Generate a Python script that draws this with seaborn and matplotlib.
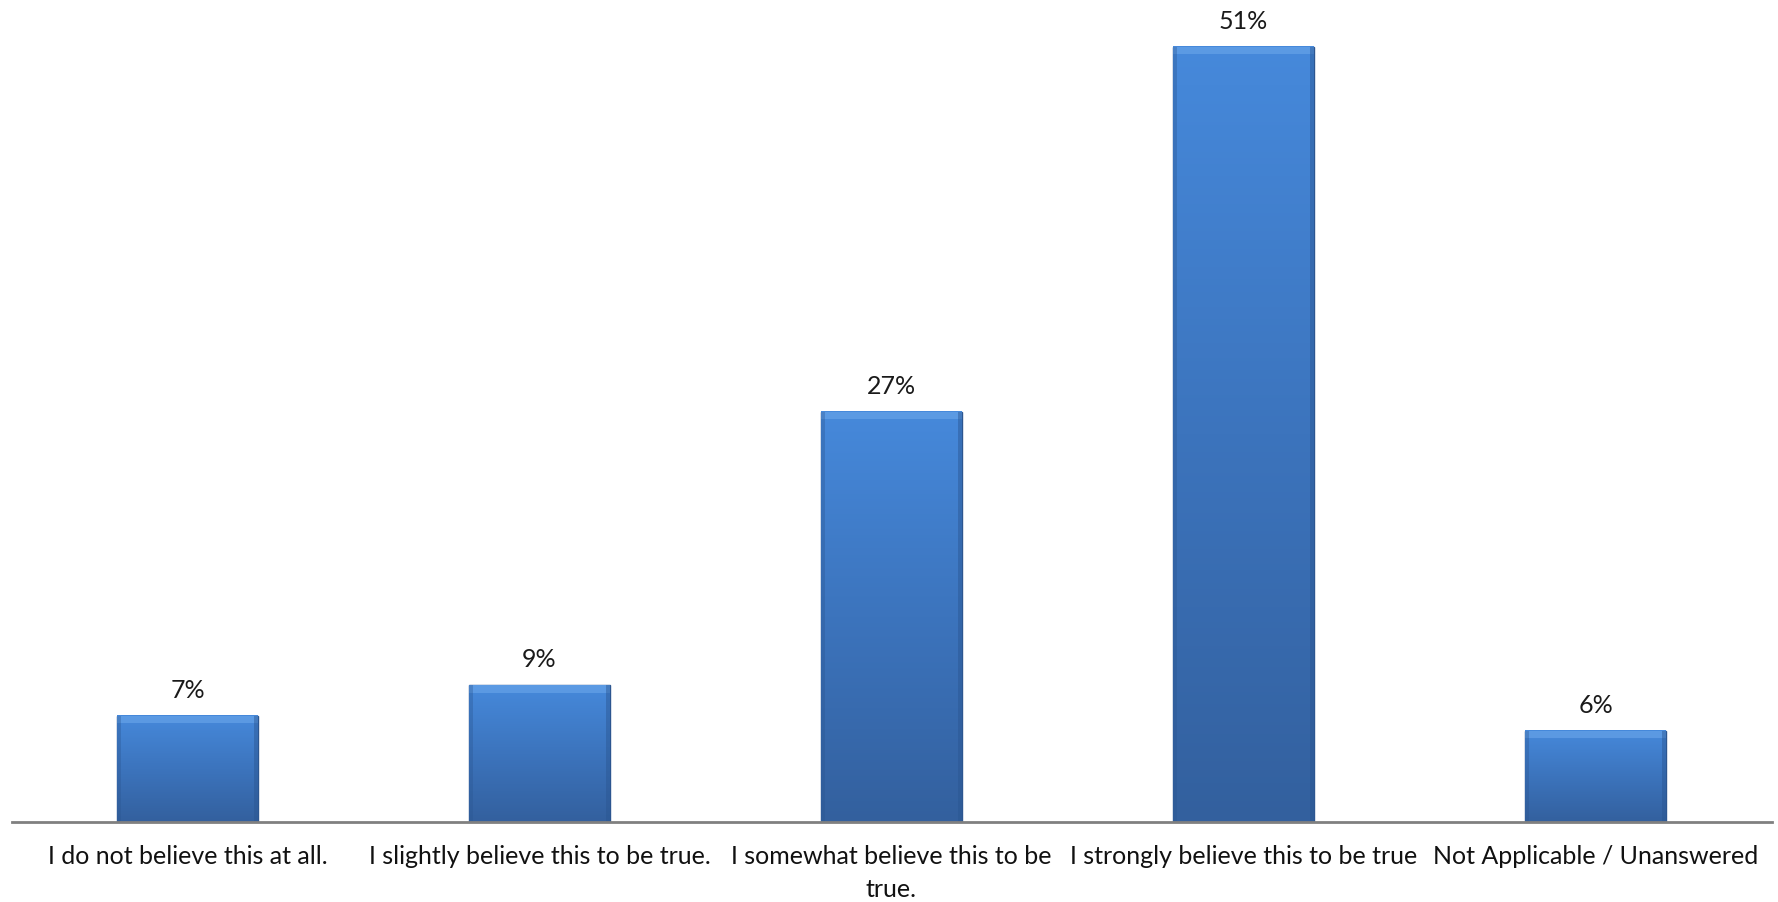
import numpy as np
import pandas as pd
import seaborn as sns
import matplotlib.pyplot as plt
from matplotlib.colors import LinearSegmentedColormap

# survey answers
categories = [
    "I do not believe this at all.",
    "I slightly believe this to be true.",
    "I somewhat believe this to be\ntrue.",
    "I strongly believe this to be true",
    "Not Applicable / Unanswered",
]
percents = [7, 9, 27, 51, 6]

df = pd.DataFrame({"answer": categories, "pct": percents})

sns.set_theme(style="white")
plt.rcParams["font.family"] = ["Lato", "DejaVu Sans"]

fig = plt.figure(figsize=(17.78, 9.03), dpi=100)
ax = fig.add_axes([11.5 / 1778, 80 / 903, 1760 / 1778, 823 / 903])

sns.barplot(data=df, x="answer", y="pct", color="#3f7fcf", width=0.4, ax=ax)
ax.set_ylim(0, 823 / 15.2)

# gradient fill + bevel look on each bar
cmap = LinearSegmentedColormap.from_list("bar", ["#33609e", "#3c74bd", "#4689db"])
grad = np.linspace(0, 1, 256).reshape(-1, 1)
for p in ax.patches:
    x0, y0 = p.get_x(), p.get_y()
    w, h = p.get_width(), p.get_height()
    p.set_facecolor("none")
    p.set_edgecolor("#2c5690")
    p.set_linewidth(1.0)
    ax.imshow(grad, extent=[x0, x0 + w, y0, y0 + h], origin="lower",
              cmap=cmap, aspect="auto", zorder=1.5)
    # lighter top bevel, darker sides
    ax.fill_between([x0, x0 + w], y0 + h - 0.5, y0 + h,
                    color="#6ea9ec", alpha=0.55, lw=0, zorder=1.6)
    ax.fill_betweenx([y0, y0 + h], x0, x0 + w * 0.03,
                     color="#2a5590", alpha=0.35, lw=0, zorder=1.6)
    ax.fill_betweenx([y0, y0 + h], x0 + w * 0.97, x0 + w,
                     color="#2a5590", alpha=0.45, lw=0, zorder=1.6)
    ax.annotate(f"{int(round(h))}%", (x0 + w / 2, y0 + h),
                xytext=(0, 19), textcoords="offset points",
                ha="center", va="center", fontsize=18, color="#1a1a1a")
ax.set_xlim(-0.5, len(categories) - 0.5)

for s in ["top", "right", "left"]:
    ax.spines[s].set_visible(False)
ax.spines["bottom"].set_color("#808080")
ax.spines["bottom"].set_linewidth(2)
ax.set_yticks([])
ax.set_xlabel("")
ax.set_ylabel("")
ax.tick_params(axis="x", length=0, pad=16, labelsize=18, colors="#111111")
for t in ax.get_xticklabels():
    t.set_linespacing(1.5)

fig.savefig("out.png", dpi=100)
